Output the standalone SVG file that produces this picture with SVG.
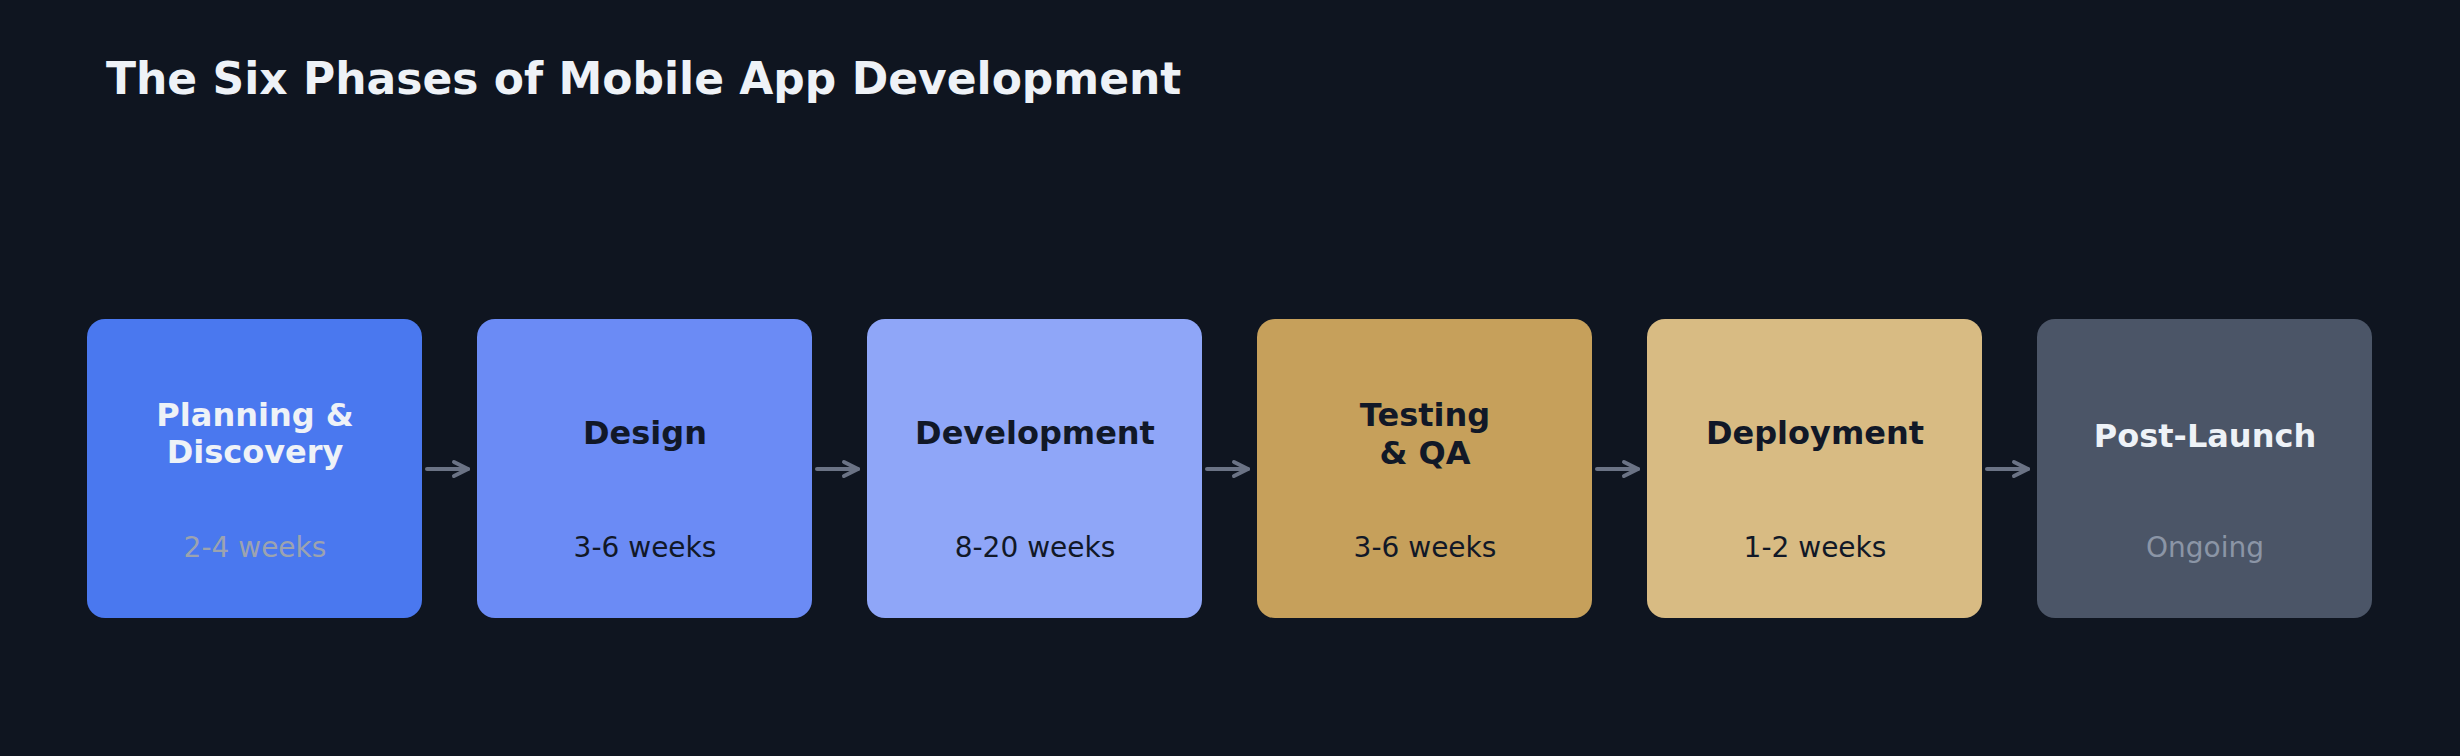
<svg xmlns="http://www.w3.org/2000/svg" width="2460" height="756" viewBox="0 0 2460 756">
  <defs>
    <style>
      .title { font-family: "DejaVu Sans", "Liberation Sans", sans-serif; font-weight: bold; font-size: 44px; fill: #EEF2F7; }
      .name { font-family: "DejaVu Sans", "Liberation Sans", sans-serif; font-weight: bold; font-size: 32px; text-anchor: middle; }
      .dur { font-family: "DejaVu Sans", "Liberation Sans", sans-serif; font-size: 28px; text-anchor: middle; }
      .light { fill: #EEF2F7; }
      .dark { fill: #111827; }
      .muted { fill: #9CA3AF; }
      .mutedb { fill: #8B95A6; }
      .conn { stroke: #6B7385; stroke-width: 4; fill: none; stroke-linecap: round; stroke-linejoin: round; }
    </style>
    <marker id="arrow" viewBox="0 0 20 20" refX="16" refY="10" markerWidth="20" markerHeight="20" markerUnits="userSpaceOnUse" orient="auto" overflow="visible">
      <path d="M2,3 L16,10 L2,17" fill="none" stroke="#6B7385" stroke-width="4" stroke-linecap="round" stroke-linejoin="round"/>
    </marker>
  </defs>
  <rect width="2460" height="756" fill="#0F1520"/>
  <text class="title" x="106" y="94">The Six Phases of Mobile App Development</text>

  <g id="node-planning">
    <rect x="87" y="319" width="335" height="299" rx="18" fill="#4A78EF"/>
    <text class="name light" x="255" y="425.5">Planning &amp;</text>
    <text class="name light" x="255" y="462.5">Discovery</text>
    <text class="dur muted" x="255" y="557">2-4 weeks</text>
  </g>
  <g id="node-design">
    <rect x="477" y="319" width="335" height="299" rx="18" fill="#6B8BF5"/>
    <text class="name dark" x="645" y="444">Design</text>
    <text class="dur dark" x="645" y="557">3-6 weeks</text>
  </g>
  <g id="node-development">
    <rect x="867" y="319" width="335" height="299" rx="18" fill="#8FA6F8"/>
    <text class="name dark" x="1035" y="444">Development</text>
    <text class="dur dark" x="1035" y="557">8-20 weeks</text>
  </g>
  <g id="node-testing">
    <rect x="1257" y="319" width="335" height="299" rx="18" fill="#C6A05B"/>
    <text class="name dark" x="1425" y="425.5">Testing</text>
    <text class="name dark" x="1425" y="463.5">&amp; QA</text>
    <text class="dur dark" x="1425" y="557">3-6 weeks</text>
  </g>
  <g id="node-deployment">
    <rect x="1647" y="319" width="335" height="299" rx="18" fill="#D8BB83"/>
    <text class="name dark" x="1815" y="444">Deployment</text>
    <text class="dur dark" x="1815" y="557">1-2 weeks</text>
  </g>
  <g id="node-postlaunch">
    <rect x="2037" y="319" width="335" height="299" rx="18" fill="#4B5567"/>
    <text class="name light" x="2205" y="447">Post-Launch</text>
    <text class="dur mutedb" x="2205" y="557">Ongoing</text>
  </g>

  <g id="connectors">
    <line class="conn" x1="427" y1="469" x2="468" y2="469" marker-end="url(#arrow)"/>
    <line class="conn" x1="817" y1="469" x2="858" y2="469" marker-end="url(#arrow)"/>
    <line class="conn" x1="1207" y1="469" x2="1248" y2="469" marker-end="url(#arrow)"/>
    <line class="conn" x1="1597" y1="469" x2="1638" y2="469" marker-end="url(#arrow)"/>
    <line class="conn" x1="1987" y1="469" x2="2028" y2="469" marker-end="url(#arrow)"/>
  </g>
</svg>
